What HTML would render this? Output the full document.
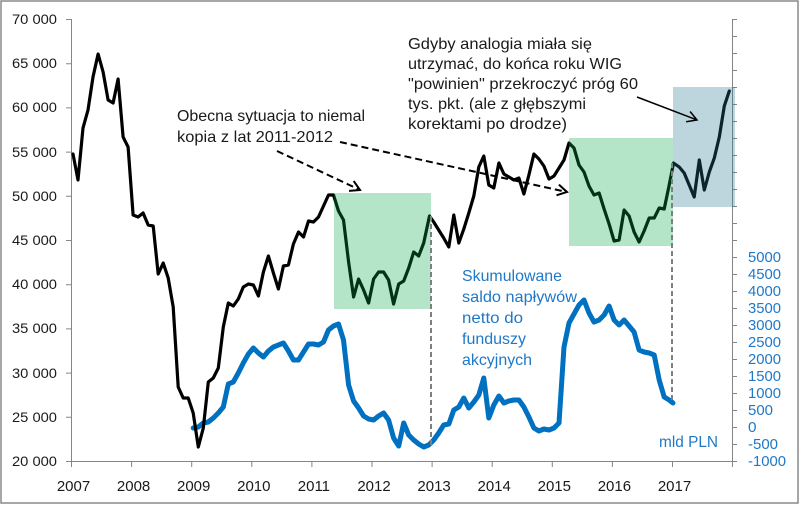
<!DOCTYPE html>
<html>
<head>
<meta charset="utf-8">
<style>
  html,body{margin:0;padding:0;background:#fff;}
  svg{display:block;}
  text{font-family:"Liberation Sans", Arial, sans-serif;}
</style>
</head>
<body>
<svg width="800" height="506" viewBox="0 0 800 506" xmlns="http://www.w3.org/2000/svg">
  <rect x="0" y="0" width="800" height="506" fill="#fff"/>
  <rect x="1" y="1" width="797" height="502" fill="none" stroke="#8a8a8a" stroke-width="1.5"/>

  <!-- axes -->
  <g stroke="#868686" stroke-width="1" fill="none">
    <line x1="71.5" y1="19" x2="71.5" y2="461"/>
    <line x1="71" y1="461.5" x2="733" y2="461.5"/>
    <line x1="732.5" y1="19" x2="732.5" y2="461"/>
    <path d="M66 19.5H71M66 63.7H71M66 107.9H71M66 152.1H71M66 196.3H71M66 240.5H71M66 284.7H71M66 328.9H71M66 373.1H71M66 417.3H71M66 461.5H71"/>
    <path d="M71.5 461V467M131.6 461V467M191.7 461V467M251.8 461V467M311.9 461V467M372 461V467M432.1 461V467M492.2 461V467M552.3 461V467M612.4 461V467M672.5 461V467M732.5 461V467"/>
    <path d="M733 19.5H737M733 36.5H737M733 53.5H737M733 70.5H737M733 87.5H737M733 104.5H737M733 121.5H737M733 138.5H737M733 155.5H737M733 172.5H737M733 189.5H737M733 206.5H737M733 223.5H737M733 240.5H737M733 257.5H737M733 274.5H737M733 291.5H737M733 308.5H737M733 325.5H737M733 342.5H737M733 359.5H737M733 376.5H737M733 393.5H737M733 410.5H737M733 427.5H737M733 444.5H737M733 461.5H737"/>
  </g>

  <!-- left labels -->
  <g font-size="14" fill="#1a1a1a" text-anchor="end">
    <text x="57" y="24" textLength="45" lengthAdjust="spacingAndGlyphs">70 000</text>
    <text x="57" y="68" textLength="45" lengthAdjust="spacingAndGlyphs">65 000</text>
    <text x="57" y="112" textLength="45" lengthAdjust="spacingAndGlyphs">60 000</text>
    <text x="57" y="157" textLength="45" lengthAdjust="spacingAndGlyphs">55 000</text>
    <text x="57" y="201" textLength="45" lengthAdjust="spacingAndGlyphs">50 000</text>
    <text x="57" y="245" textLength="45" lengthAdjust="spacingAndGlyphs">45 000</text>
    <text x="57" y="289" textLength="45" lengthAdjust="spacingAndGlyphs">40 000</text>
    <text x="57" y="333" textLength="45" lengthAdjust="spacingAndGlyphs">35 000</text>
    <text x="57" y="378" textLength="45" lengthAdjust="spacingAndGlyphs">30 000</text>
    <text x="57" y="422" textLength="45" lengthAdjust="spacingAndGlyphs">25 000</text>
    <text x="57" y="466" textLength="45" lengthAdjust="spacingAndGlyphs">20 000</text>
  </g>

  <!-- year labels -->
  <g font-size="15" fill="#1a1a1a" text-anchor="middle">
    <text x="73.5" y="491">2007</text>
    <text x="133.6" y="491">2008</text>
    <text x="193.7" y="491">2009</text>
    <text x="253.8" y="491">2010</text>
    <text x="313.9" y="491">2011</text>
    <text x="374" y="491">2012</text>
    <text x="434.1" y="491">2013</text>
    <text x="494.2" y="491">2014</text>
    <text x="554.3" y="491">2015</text>
    <text x="614.4" y="491">2016</text>
    <text x="674.5" y="491">2017</text>
  </g>

  <!-- right labels -->
  <g font-size="15" fill="#1f78c8">
    <text x="748" y="262" textLength="33" lengthAdjust="spacingAndGlyphs">5000</text>
    <text x="748" y="279" textLength="33" lengthAdjust="spacingAndGlyphs">4500</text>
    <text x="748" y="296" textLength="33" lengthAdjust="spacingAndGlyphs">4000</text>
    <text x="748" y="313" textLength="33" lengthAdjust="spacingAndGlyphs">3500</text>
    <text x="748" y="330" textLength="33" lengthAdjust="spacingAndGlyphs">3000</text>
    <text x="748" y="347" textLength="33" lengthAdjust="spacingAndGlyphs">2500</text>
    <text x="748" y="364" textLength="33" lengthAdjust="spacingAndGlyphs">2000</text>
    <text x="748" y="381" textLength="33" lengthAdjust="spacingAndGlyphs">1500</text>
    <text x="748" y="398" textLength="33" lengthAdjust="spacingAndGlyphs">1000</text>
    <text x="748" y="415" textLength="25" lengthAdjust="spacingAndGlyphs">500</text>
    <text x="748" y="432" textLength="8.5" lengthAdjust="spacingAndGlyphs">0</text>
    <text x="748" y="449" textLength="30" lengthAdjust="spacingAndGlyphs">-500</text>
    <text x="748" y="466" textLength="38" lengthAdjust="spacingAndGlyphs">-1000</text>
  </g>

  <!-- blue series -->
  <polyline fill="none" stroke="#0070C0" stroke-width="5" stroke-linejoin="round" stroke-linecap="round"
    points="193.2,428 198.3,427 203.3,423 208.3,422 213.3,418 218.3,413 223.3,407 228.3,384 233.3,382 238.3,373 243.3,363 248.4,354 253.4,348 258.4,353 263.4,357 268.4,351 273.4,347 278.4,345 283.4,343 288.4,351 293.4,360 298.5,360 303.5,352 308.5,344 313.5,344 318.5,345 323.5,342 328.5,330 333.5,326 338.5,324 343.5,340 348.6,385 353.6,401 358.6,408 363.6,416 368.6,419 373.6,420 378.6,416 383.6,413 388.6,420 393.6,438 398.7,446 403.7,423 408.7,435 413.7,440 418.7,444 423.7,447 428.7,445 433.7,440 438.7,433 443.7,425 448.8,424 453.8,410 458.8,407 463.8,398 468.8,408 473.8,402 478.8,395 483.8,378 488.8,418 493.8,405 498.9,396 503.9,403 508.9,401 513.9,400 518.9,400 523.9,407 528.9,417 533.9,428 538.9,431 543.9,429 549,430 554,428 559,423 564,347 569,323 574,314 579,305 584,300 589,313 594,322 599.1,320 604.1,315 609.1,306 614.1,320 619.1,325 624.1,320 629.1,326 634.1,332 639.1,350 644.1,352 649.2,353 654.2,355 659.2,380 664.2,397 669.2,400 673,403"/>

  <!-- black WIG series -->
  <polyline fill="none" stroke="#000" stroke-width="3.2" stroke-linejoin="round" stroke-linecap="round"
    points="73,154 78,180 83,128 88,110 93,77 98.1,54 103.1,72 108.1,100 113.1,103 118.1,79 123.1,137 128.1,147 133.1,215 138.1,217 143.1,213 148.2,225 153.2,226 158.2,274 163.2,263 168.2,278 173.2,307 178.2,387 183.2,398 188.2,398 193.2,413 198.3,447 203.3,428 208.3,382 213.3,378 218.3,368 223.3,327 228.3,303 233.3,306 238.3,299 243.3,287 248.4,284 253.4,285 258.4,296 263.4,272 268.4,256 273.4,273 278.4,289 283.4,266 288.4,265 293.4,244 298.5,232 303.5,237 308.5,221 313.5,222 318.5,217 323.5,206 328.5,195 333.5,195 338.5,211 343.5,220 348.6,262 353.6,297 358.6,279 363.6,290 368.6,303 373.6,279 378.6,272 383.6,272 388.6,280 393.6,304 398.7,284 403.7,281 408.7,268 413.7,252 418.7,256 423.7,243 429.5,216 433.7,222 438.7,230 443.7,238 448.8,247 453.8,215 458.8,243 463.8,229 468.8,213 473.8,196 478.8,167 483.8,156 488.8,185 493.8,188 498.9,163 503.9,174 508.9,177 513.9,180 518.9,178 523.9,194 528.9,175 533.9,154 538.9,159 543.9,166 549,179 554,176 559,168 564,160 569,143 574,148 579,165 584,172 589,186 594,195 599.1,193 604.1,209 609.1,224 614.1,241 619.1,240 624.1,210 629.1,216 634.1,232 639.1,242 644.1,231 649.2,218 654.2,218 659.2,208 664.2,209 669.2,185 673.5,163 679.2,167 684.2,173 689.2,185 694.2,197 699.3,160 704.3,190 709.3,172 714.3,158 719.3,137 724.3,106 729.3,91"/>

  <!-- highlight boxes -->
  <rect x="334" y="193" width="97" height="116" fill="rgb(5,168,75)" fill-opacity="0.3"/>
  <rect x="569" y="138" width="104" height="108" fill="rgb(5,168,75)" fill-opacity="0.3"/>
  <rect x="673" y="87" width="62" height="120" fill="rgb(35,118,145)" fill-opacity="0.3"/>

  <!-- gray dashed verticals (end at blue line) -->
  <g stroke="#7f7f7f" stroke-width="2" stroke-dasharray="5,3">
    <line x1="431" y1="216" x2="431" y2="447"/>
    <line x1="672" y1="163" x2="672" y2="403"/>
  </g>

  <!-- arrows -->
  <g stroke="#000" fill="none" stroke-width="2">
    <line x1="277" y1="151" x2="359" y2="189.5" stroke-dasharray="7,4"/>
    <polyline points="349,190.9 360,190 353.7,181"/>
    <line x1="340" y1="142" x2="566" y2="191.8" stroke-dasharray="7,4"/>
    <polyline points="556.5,195.3 567,192 558.9,184.6"/>
    <line x1="637" y1="97" x2="696" y2="119.6" stroke-width="1.5"/>
    <polyline points="686.1,121.7 697,120 690.1,111.5" stroke-width="1.5"/>
  </g>

  <!-- annotations -->
  <g font-size="16" fill="#1a1a1a">
    <text x="177" y="121" textLength="188" lengthAdjust="spacingAndGlyphs">Obecna sytuacja to niemal</text>
    <text x="177" y="142" textLength="156" lengthAdjust="spacingAndGlyphs">kopia z lat 2011-2012</text>

    <text x="408" y="49" textLength="184" lengthAdjust="spacingAndGlyphs">Gdyby analogia miała się</text>
    <text x="408" y="69" textLength="214" lengthAdjust="spacingAndGlyphs">utrzymać, do końca roku WIG</text>
    <text x="408" y="89" textLength="230" lengthAdjust="spacingAndGlyphs">"powinien" przekroczyć próg 60</text>
    <text x="408" y="109" textLength="178" lengthAdjust="spacingAndGlyphs">tys. pkt. (ale z głębszymi</text>
    <text x="408" y="129" textLength="159" lengthAdjust="spacingAndGlyphs">korektami po drodze)</text>
  </g>
  <g font-size="16" fill="#1f78c8">
    <text x="462" y="281" textLength="100" lengthAdjust="spacingAndGlyphs">Skumulowane</text>
    <text x="462" y="302" textLength="115" lengthAdjust="spacingAndGlyphs">saldo napływów</text>
    <text x="462" y="323" textLength="61" lengthAdjust="spacingAndGlyphs">netto do</text>
    <text x="462" y="344" textLength="64" lengthAdjust="spacingAndGlyphs">funduszy</text>
    <text x="462" y="365" textLength="70" lengthAdjust="spacingAndGlyphs">akcyjnych</text>
    <text x="659" y="447" textLength="59" lengthAdjust="spacingAndGlyphs">mld PLN</text>
  </g>
</svg>
</body>
</html>
